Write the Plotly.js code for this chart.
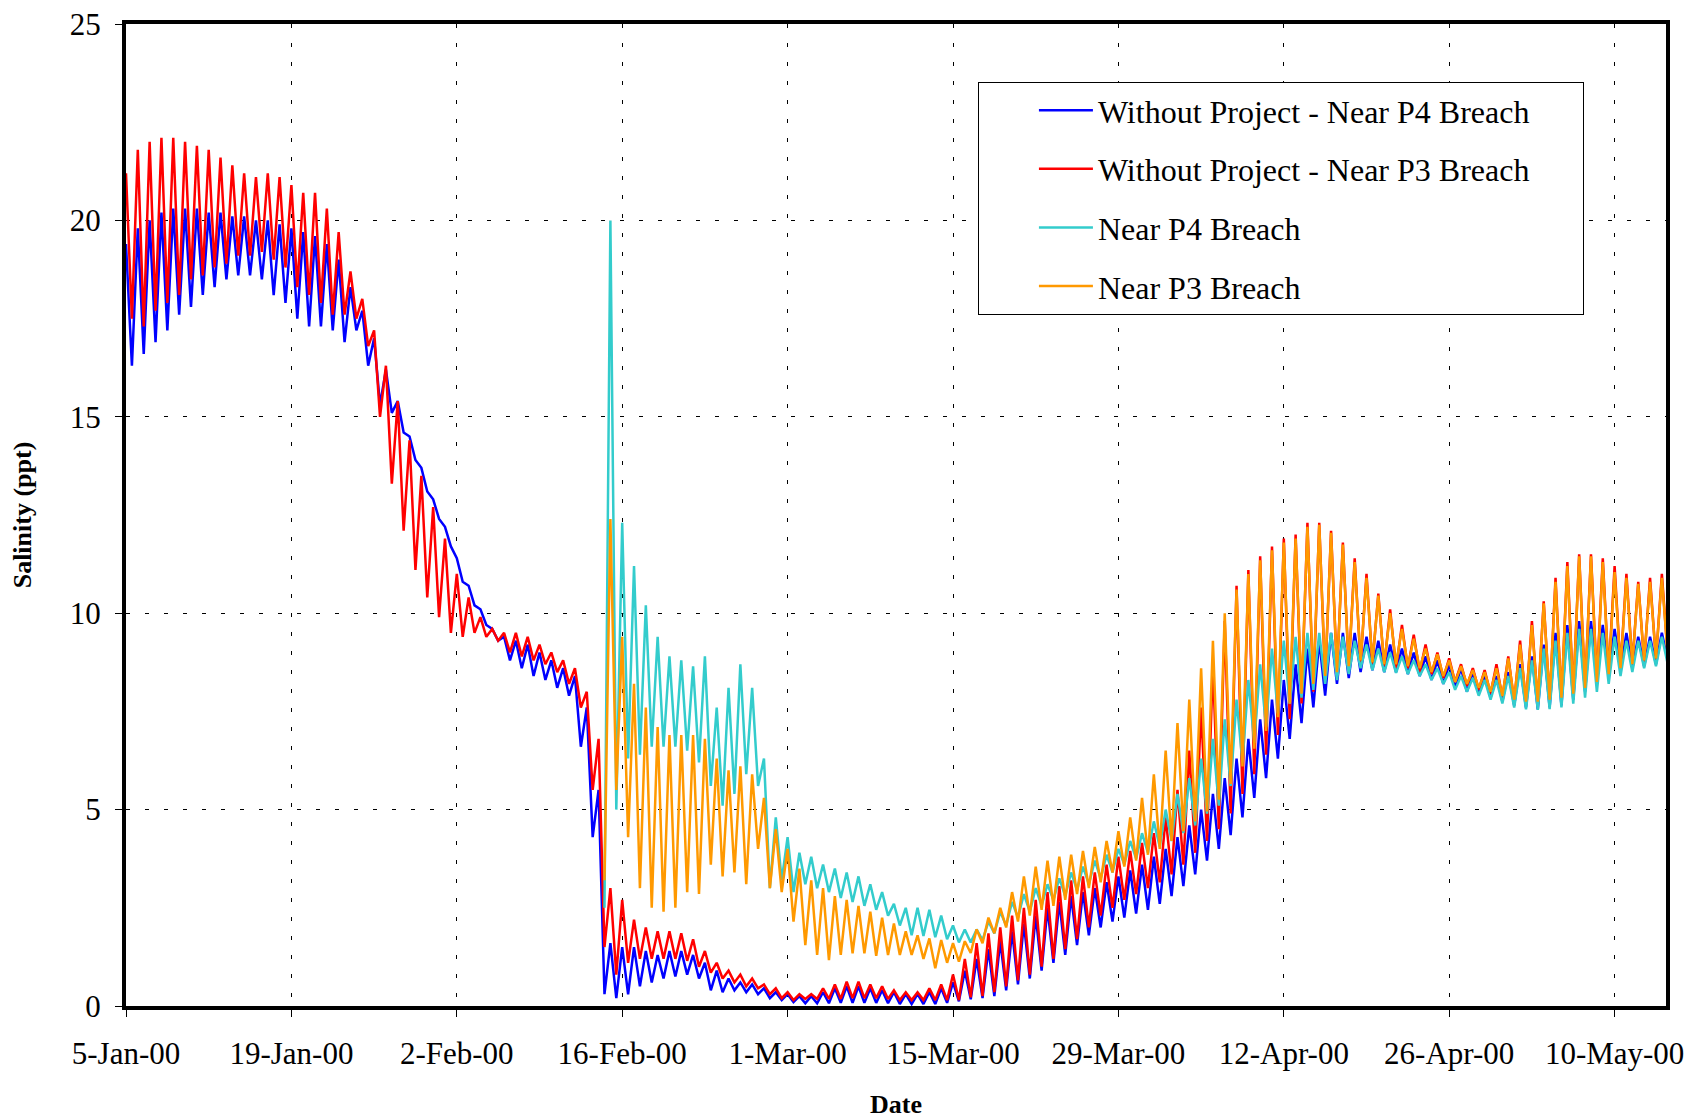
<!DOCTYPE html>
<html>
<head>
<meta charset="utf-8">
<script src="https://cdn.plot.ly/plotly-3.0.1.min.js"></script>
<style>html,body{margin:0;padding:0;background:#fff;}#chart{width:1691px;height:1119px;}</style>
</head>
<body>
<div id="chart"></div>
<script>
// ---- data (daily tidal high / low salinity, ppt), day 0 = 5-Jan-2000 ----
const startDate = '2000-01-05';
const tickDays = [0, 14, 28, 42, 56, 70, 84, 98, 112, 126];
const tickLabels = ['5-Jan-00','19-Jan-00','2-Feb-00','16-Feb-00','1-Mar-00','15-Mar-00','29-Mar-00','12-Apr-00','26-Apr-00','10-May-00'];
const seriesNames = ['Without Project - Near P4 Breach','Without Project - Near P3 Breach','Near P4 Breach','Near P3 Breach'];

const blueHi = [19.4,19.8,20.0,20.2,20.3,20.3,20.3,20.2,20.2,20.1,20.1,20.0,20.0,19.9,19.8,19.7,19.6,19.4,19.0,18.3,
17.7,17.0,16.2,15.4,14.5,13.7,12.9,12.2,11.4,10.7,10.1,9.6,9.4,9.3,9.2,9.0,8.8,8.6,8.4,7.6,
5.5,1.6,1.5,1.5,1.4,1.3,1.4,1.4,1.3,1.1,0.9,0.7,0.6,0.55,0.45,0.35,0.3,0.25,0.25,0.35,
0.45,0.5,0.5,0.45,0.4,0.35,0.3,0.3,0.35,0.45,0.6,0.9,1.2,1.45,1.65,1.9,2.1,2.3,2.5,2.65,
2.8,2.9,3.0,3.15,3.3,3.45,3.6,3.8,4.0,4.3,4.6,5.0,5.4,5.8,6.3,6.8,7.3,7.8,8.3,8.7,
9.1,9.3,9.5,9.5,9.5,9.4,9.3,9.2,9.1,9.0,8.9,8.8,8.7,8.6,8.5,8.4,8.4,8.5,8.7,8.9,
9.2,9.5,9.7,9.8,9.8,9.7,9.6,9.5,9.4,9.4,9.5];
const blueLo = [16.3,16.6,16.9,17.2,17.6,17.8,18.1,18.3,18.5,18.6,18.6,18.5,18.1,17.9,17.5,17.3,17.3,17.2,16.9,17.2,
16.3,15.3,15.1,14.6,13.9,13.1,12.4,11.7,10.8,10.2,9.7,9.3,8.8,8.6,8.4,8.3,8.1,7.9,6.6,4.3,
0.3,0.2,0.3,0.5,0.6,0.7,0.75,0.8,0.7,0.4,0.35,0.4,0.35,0.3,0.2,0.15,0.1,0.07,0.07,0.07,
0.08,0.08,0.08,0.08,0.07,0.05,0.05,0.05,0.05,0.08,0.12,0.17,0.2,0.25,0.4,0.55,0.7,0.9,1.1,1.3,
1.55,1.8,2.0,2.15,2.25,2.35,2.45,2.6,2.8,3.05,3.35,3.7,4.0,4.35,4.8,5.3,5.8,6.3,6.8,7.2,
7.6,7.9,8.2,8.35,8.5,8.55,8.5,8.5,8.45,8.4,8.3,8.2,8.1,8.0,7.95,7.85,7.75,7.65,7.6,7.55,
7.6,7.65,7.8,8.0,8.3,8.45,8.55,8.6,8.65,8.7,8.8];

const redHi = [21.2,21.8,22.0,22.1,22.1,22.0,21.9,21.8,21.6,21.4,21.2,21.1,21.2,21.1,20.9,20.7,20.7,20.3,19.7,18.7,
18.0,17.2,16.3,15.4,14.4,13.5,12.7,11.9,11.0,10.4,9.9,9.6,9.5,9.5,9.4,9.2,9.0,8.8,8.6,8.0,
6.8,3.0,2.7,2.2,2.0,1.9,1.9,1.85,1.7,1.4,1.1,0.9,0.8,0.7,0.55,0.45,0.35,0.3,0.3,0.45,
0.55,0.62,0.62,0.55,0.5,0.4,0.35,0.35,0.45,0.55,0.8,1.2,1.6,1.85,2.0,2.3,2.5,2.7,2.9,3.05,
3.2,3.3,3.4,3.6,3.8,3.95,4.15,4.4,4.8,5.5,6.5,7.6,8.7,9.8,10.7,11.1,11.45,11.7,11.9,12.0,
12.3,12.3,12.1,11.8,11.4,11.0,10.5,10.1,9.7,9.45,9.2,9.0,8.85,8.7,8.6,8.55,8.7,8.9,9.3,9.8,
10.3,10.9,11.3,11.5,11.5,11.4,11.2,11.0,10.8,10.9,11.0];
const redLo = [17.5,17.3,17.7,17.9,18.1,18.5,18.6,18.8,18.9,19.1,19.1,19.2,19.0,18.8,18.3,18.1,17.9,17.6,17.6,17.5,
16.8,15.0,13.3,12.1,11.1,10.4,9.9,9.5,9.4,9.5,9.4,9.3,9.0,8.9,8.8,8.7,8.5,8.2,7.6,5.5,
1.5,0.8,1.1,1.2,1.2,1.2,1.2,1.15,1.0,0.85,0.7,0.6,0.5,0.45,0.3,0.2,0.15,0.18,0.18,0.18,
0.18,0.2,0.2,0.2,0.18,0.15,0.15,0.15,0.15,0.15,0.15,0.22,0.25,0.35,0.5,0.65,0.8,1.0,1.2,1.45,
1.7,2.0,2.3,2.5,2.7,2.85,3.0,3.15,3.35,3.6,3.9,4.2,4.5,4.9,5.4,5.9,6.4,6.9,7.3,7.7,
8.0,8.3,8.5,8.6,8.7,8.7,8.65,8.6,8.6,8.5,8.45,8.35,8.25,8.15,8.05,7.95,7.85,7.75,7.7,7.7,
7.75,7.8,7.95,8.1,8.3,8.45,8.6,8.7,8.75,8.8,8.9];

// "with project" series start at the breach, day 40
const projStartDay = 40;
const cyanHi = [null,20.0,12.3,11.2,10.2,9.4,8.9,8.8,8.65,8.9,7.6,8.1,8.7,8.1,6.3,4.8,4.3,3.9,3.8,3.6,
3.5,3.4,3.3,3.1,2.9,2.6,2.5,2.5,2.45,2.3,2.05,1.95,1.95,2.15,2.4,2.65,2.85,3.0,3.1,3.25,
3.4,3.55,3.7,3.85,4.0,4.2,4.4,4.7,5.0,5.4,5.8,6.3,6.8,7.3,7.8,8.3,8.7,9.1,9.3,9.4,
9.5,9.5,9.5,9.4,9.3,9.2,9.1,9.0,8.9,8.8,8.7,8.6,8.5,8.4,8.35,8.3,8.3,8.4,8.6,8.8,
9.1,9.3,9.5,9.6,9.6,9.5,9.4,9.3,9.3,9.3,9.4];
const cyanLo = [2.5,5.0,6.3,6.4,6.6,6.6,6.6,6.5,6.2,5.6,5.1,5.4,5.9,5.6,3.0,3.2,2.9,3.1,3.0,2.9,
2.75,2.65,2.55,2.45,2.3,2.05,1.8,1.78,1.75,1.7,1.62,1.62,1.68,1.85,2.05,2.25,2.4,2.55,2.7,2.8,
2.95,3.1,3.25,3.4,3.6,3.75,3.9,4.05,4.2,4.4,4.6,4.9,5.1,5.6,6.2,6.7,7.1,7.45,7.7,7.85,
8.05,8.2,8.3,8.45,8.6,8.55,8.5,8.48,8.45,8.4,8.3,8.2,8.05,8.0,7.9,7.8,7.7,7.6,7.55,7.54,
7.56,7.6,7.7,7.85,8.0,8.2,8.4,8.5,8.6,8.65,8.7];
const orangeHi = [null,12.4,9.4,8.2,7.6,7.1,6.9,6.9,6.9,6.8,6.3,6.0,6.1,5.9,5.3,4.5,4.0,3.5,3.2,3.0,
2.8,2.7,2.55,2.4,2.25,2.1,1.9,1.8,1.72,1.68,1.6,1.65,1.95,2.25,2.5,2.9,3.3,3.55,3.7,3.8,
3.85,3.95,4.05,4.2,4.45,4.8,5.3,5.9,6.5,7.2,7.8,8.6,9.3,10.0,10.6,11.0,11.35,11.6,11.8,11.9,
12.2,12.25,12.05,11.75,11.3,10.9,10.45,10.0,9.6,9.35,9.1,8.95,8.8,8.65,8.55,8.5,8.6,8.85,9.2,9.7,
10.25,10.8,11.2,11.45,11.45,11.3,11.05,10.9,10.75,10.8,10.9];
const orangeLo = [3.2,5.5,4.3,3.0,2.5,2.4,2.5,2.9,2.85,3.6,3.3,3.4,3.1,4.0,3.0,2.9,2.15,1.55,1.3,1.17,
1.3,1.34,1.34,1.28,1.3,1.3,1.3,1.2,0.96,1.1,1.13,1.35,1.6,1.85,2.0,2.15,2.3,2.45,2.55,2.7,
2.85,3.0,3.15,3.4,3.55,3.7,3.85,4.0,4.2,4.45,4.7,4.95,5.25,5.65,6.1,6.55,7.0,7.35,7.7,7.95,
8.2,8.4,8.5,8.65,8.8,8.75,8.7,8.7,8.65,8.6,8.5,8.4,8.25,8.2,8.1,8.0,7.9,7.8,7.75,7.75,
7.8,7.85,7.95,8.1,8.25,8.45,8.6,8.7,8.8,8.85,8.9];

// ---- build traces: tidal high at day k, tidal low half a day later ----
const t0 = Date.parse(startDate + 'T00:00:00Z');
function dayToStr(d) {
  return new Date(t0 + d * 86400000).toISOString().slice(0, 16).replace('T', ' ');
}
function buildXY(hi, lo, firstDay) {
  const x = [], y = [];
  for (let k = 0; k < hi.length; k++) {
    x.push(dayToStr(firstDay + k)); y.push(hi[k]);
    x.push(dayToStr(firstDay + k + 0.5)); y.push(lo[k]);
  }
  return {x, y};
}
const NB = '\u00A0';
const legendRightPad = NB.repeat(6);
const colors = ['#0000FF', '#FF0000', '#33CCCC', '#FF9900'];
const sets = [[blueHi, blueLo, 0], [redHi, redLo, 0], [cyanHi, cyanLo, projStartDay], [orangeHi, orangeLo, projStartDay]];
const traces = sets.map((s, i) => {
  const xy = buildXY(s[0], s[1], s[2]);
  return {
    type: 'scatter', mode: 'lines', x: xy.x, y: xy.y, name: seriesNames[i] + legendRightPad,
    legendgroup: 'g' + i, connectgaps: false,
    line: {color: colors[i], width: 2.5}
  };
});

const FONT = 'Liberation Serif, Times New Roman, serif';
const layout = {
  width: 1691, height: 1119,
  margin: {l: 126, r: 25, t: 24, b: 113},
  paper_bgcolor: '#ffffff', plot_bgcolor: '#ffffff',
  showlegend: true,
  font: {family: FONT, color: '#000'},
  xaxis: {
    type: 'date',
    range: [dayToStr(0), dayToStr(130.35)],
    tickmode: 'array',
    tickvals: tickDays.map(d => dayToStr(d)),
    ticktext: tickLabels,
    tickfont: {family: FONT, size: 31, color: '#000'},
    ticks: 'outside', ticklen: 7, tickwidth: 1, tickcolor: '#000',
    ticklabelstandoff: 10,
    showline: true, linecolor: '#000', linewidth: 4, mirror: true,
    showgrid: true, gridcolor: '#000', gridwidth: 1, griddash: '4px,15px',
    zeroline: false,
    title: {text: 'Date', font: {family: FONT, size: 26, color: '#000', weight: 'bold'}, standoff: 26},
    automargin: false
  },
  yaxis: {
    range: [0, 25], tickmode: 'linear', tick0: 0, dtick: 5,
    tickfont: {family: FONT, size: 31, color: '#000'},
    ticks: 'outside', ticklen: 7, tickwidth: 1, tickcolor: '#000',
    ticklabelstandoff: 8,
    showline: true, linecolor: '#000', linewidth: 4, mirror: true,
    showgrid: true, gridcolor: '#000', gridwidth: 1, griddash: '4px,15px',
    zeroline: false,
    title: {text: 'Salinity (ppt)', font: {family: FONT, size: 26, color: '#000', weight: 'bold'}, standoff: 32},
    automargin: false
  },
  legend: {
    x: 0.5532, y: 0.941, xanchor: 'left', yanchor: 'top',
    bgcolor: '#ffffff', bordercolor: '#000', borderwidth: 1,
    font: {family: FONT, size: 32, color: '#000'},
    title: {text: NB.repeat(5), side: 'left', font: {family: FONT, size: 32}},
    indentation: 5,
    tracegroupgap: 14, itemwidth: 54
  }
};

Plotly.newPlot('chart', traces, layout, {displayModeBar: false, staticPlot: true});
</script>
</body>
</html>
